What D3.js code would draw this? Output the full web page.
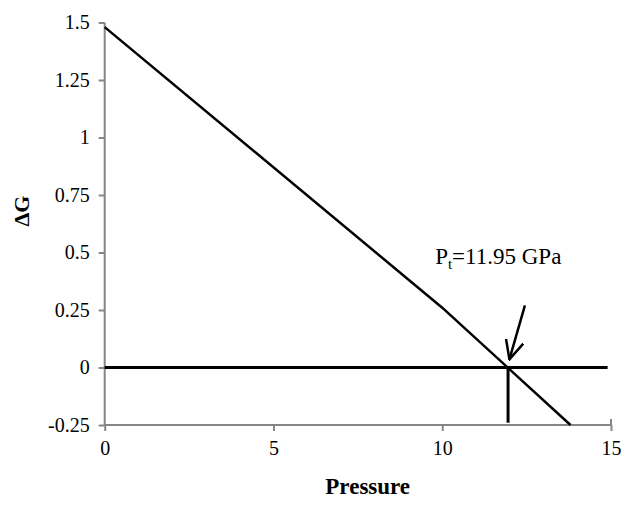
<!DOCTYPE html>
<html>
<head>
<meta charset="utf-8">
<script src="https://cdn.jsdelivr.net/npm/d3@7"></script>
<style>
  body { margin: 0; background: #fff; }
</style>
</head>
<body>
<div id="chart"></div>
<script>
// data
var pressure = [0, 10, 13.8];
var deltaG = [1.48, 0.26, -0.25];
var xTicks = [0, 5, 10, 15];
var yTicks = [-0.25, 0, 0.25, 0.5, 0.75, 1, 1.25, 1.5];
var zeroLine = [0, 14.9];
var transition = 11.95;
var arrowFrom = [12.45, 0.27];
var arrowTo = [11.99, 0.035];

var serif = "'Liberation Serif'";

var margin = { top: 22.5, right: 10, bottom: 83, left: 104.7 },
    width = 621 - margin.left - margin.right,
    height = 508 - margin.top - margin.bottom;

var svg = d3.select("#chart").append("svg")
    .attr("width", 621)
    .attr("height", 508)
  .append("g")
    .attr("transform", "translate(" + margin.left + "," + margin.top + ")");

var x = d3.scaleLinear().domain([0, 15]).range([0, 506.3]);
var y = d3.scaleLinear().domain([-0.25, 1.5]).range([height, 0]);

// axes
var xAxis = d3.axisBottom(x).tickValues(xTicks).tickSize(6).tickPadding(10).tickFormat(d3.format("d"));
var yAxis = d3.axisLeft(y).tickValues(yTicks).tickSize(6).tickPadding(9).tickFormat(function(d) { return String(d); });

var gx = svg.append("g")
    .attr("transform", "translate(0," + height + ")")
    .call(xAxis);
var gy = svg.append("g").call(yAxis);

[gx, gy].forEach(function(g) {
  g.select(".domain").attr("stroke", "#868686").attr("stroke-width", 2);
  g.selectAll(".tick line").attr("stroke", "#868686").attr("stroke-width", 2);
  g.selectAll(".tick text")
    .attr("fill", "#000")
    .style("font-family", serif)
    .style("font-size", "20px");
});
gx.select(".domain").attr("d", "M0,0H" + x(15) + "V-6");
gy.select(".domain").attr("d", "M0,0V" + height);

// zero line
svg.append("line")
    .attr("x1", x(zeroLine[0])).attr("x2", x(zeroLine[1]))
    .attr("y1", y(0)).attr("y2", y(0))
    .attr("stroke", "#000").attr("stroke-width", 3);

// vertical marker at transition pressure
svg.append("line")
    .attr("x1", x(transition)).attr("x2", x(transition))
    .attr("y1", y(0)).attr("y2", y(-0.24))
    .attr("stroke", "#000").attr("stroke-width", 3);

// delta G line
var line = d3.line()
    .x(function(d, i) { return x(pressure[i]); })
    .y(function(d) { return y(d); });

svg.append("path")
    .datum(deltaG)
    .attr("d", line)
    .attr("fill", "none")
    .attr("stroke", "#000")
    .attr("stroke-width", 2.5);

// arrow
svg.append("defs").append("marker")
    .attr("id", "head")
    .attr("viewBox", "0 0 10 10")
    .attr("refX", 9.5).attr("refY", 5)
    .attr("markerWidth", 20).attr("markerHeight", 20)
    .attr("markerUnits", "userSpaceOnUse")
    .attr("orient", "auto")
  .append("path")
    .attr("d", "M0,0.5 L9.5,5 L0,9.5")
    .attr("fill", "none")
    .attr("stroke", "#000")
    .attr("stroke-width", 1.25);

svg.append("line")
    .attr("x1", x(arrowFrom[0])).attr("y1", y(arrowFrom[1]))
    .attr("x2", x(arrowTo[0])).attr("y2", y(arrowTo[1]))
    .attr("stroke", "#000").attr("stroke-width", 2.5)
    .attr("marker-end", "url(#head)");

// annotation
var label = svg.append("text")
    .attr("x", x(9.79))
    .attr("y", y(0.45))
    .style("font-family", serif)
    .style("font-size", "23px");
label.append("tspan").text("P");
label.append("tspan").attr("dy", 5).style("font-size", "15px").text("t");
label.append("tspan").attr("dy", -5).text("=11.95 GPa");

// axis titles
svg.append("text")
    .attr("x", 263)
    .attr("y", 471)
    .attr("text-anchor", "middle")
    .style("font-family", serif)
    .style("font-size", "23px")
    .style("font-weight", "bold")
    .text("Pressure");

svg.append("text")
    .attr("transform", "translate(-76," + y(0.68) + ") rotate(-90)")
    .attr("text-anchor", "middle")
    .style("font-family", serif)
    .style("font-size", "22px")
    .style("font-weight", "bold")
    .text("ΔG");
</script>
</body>
</html>
